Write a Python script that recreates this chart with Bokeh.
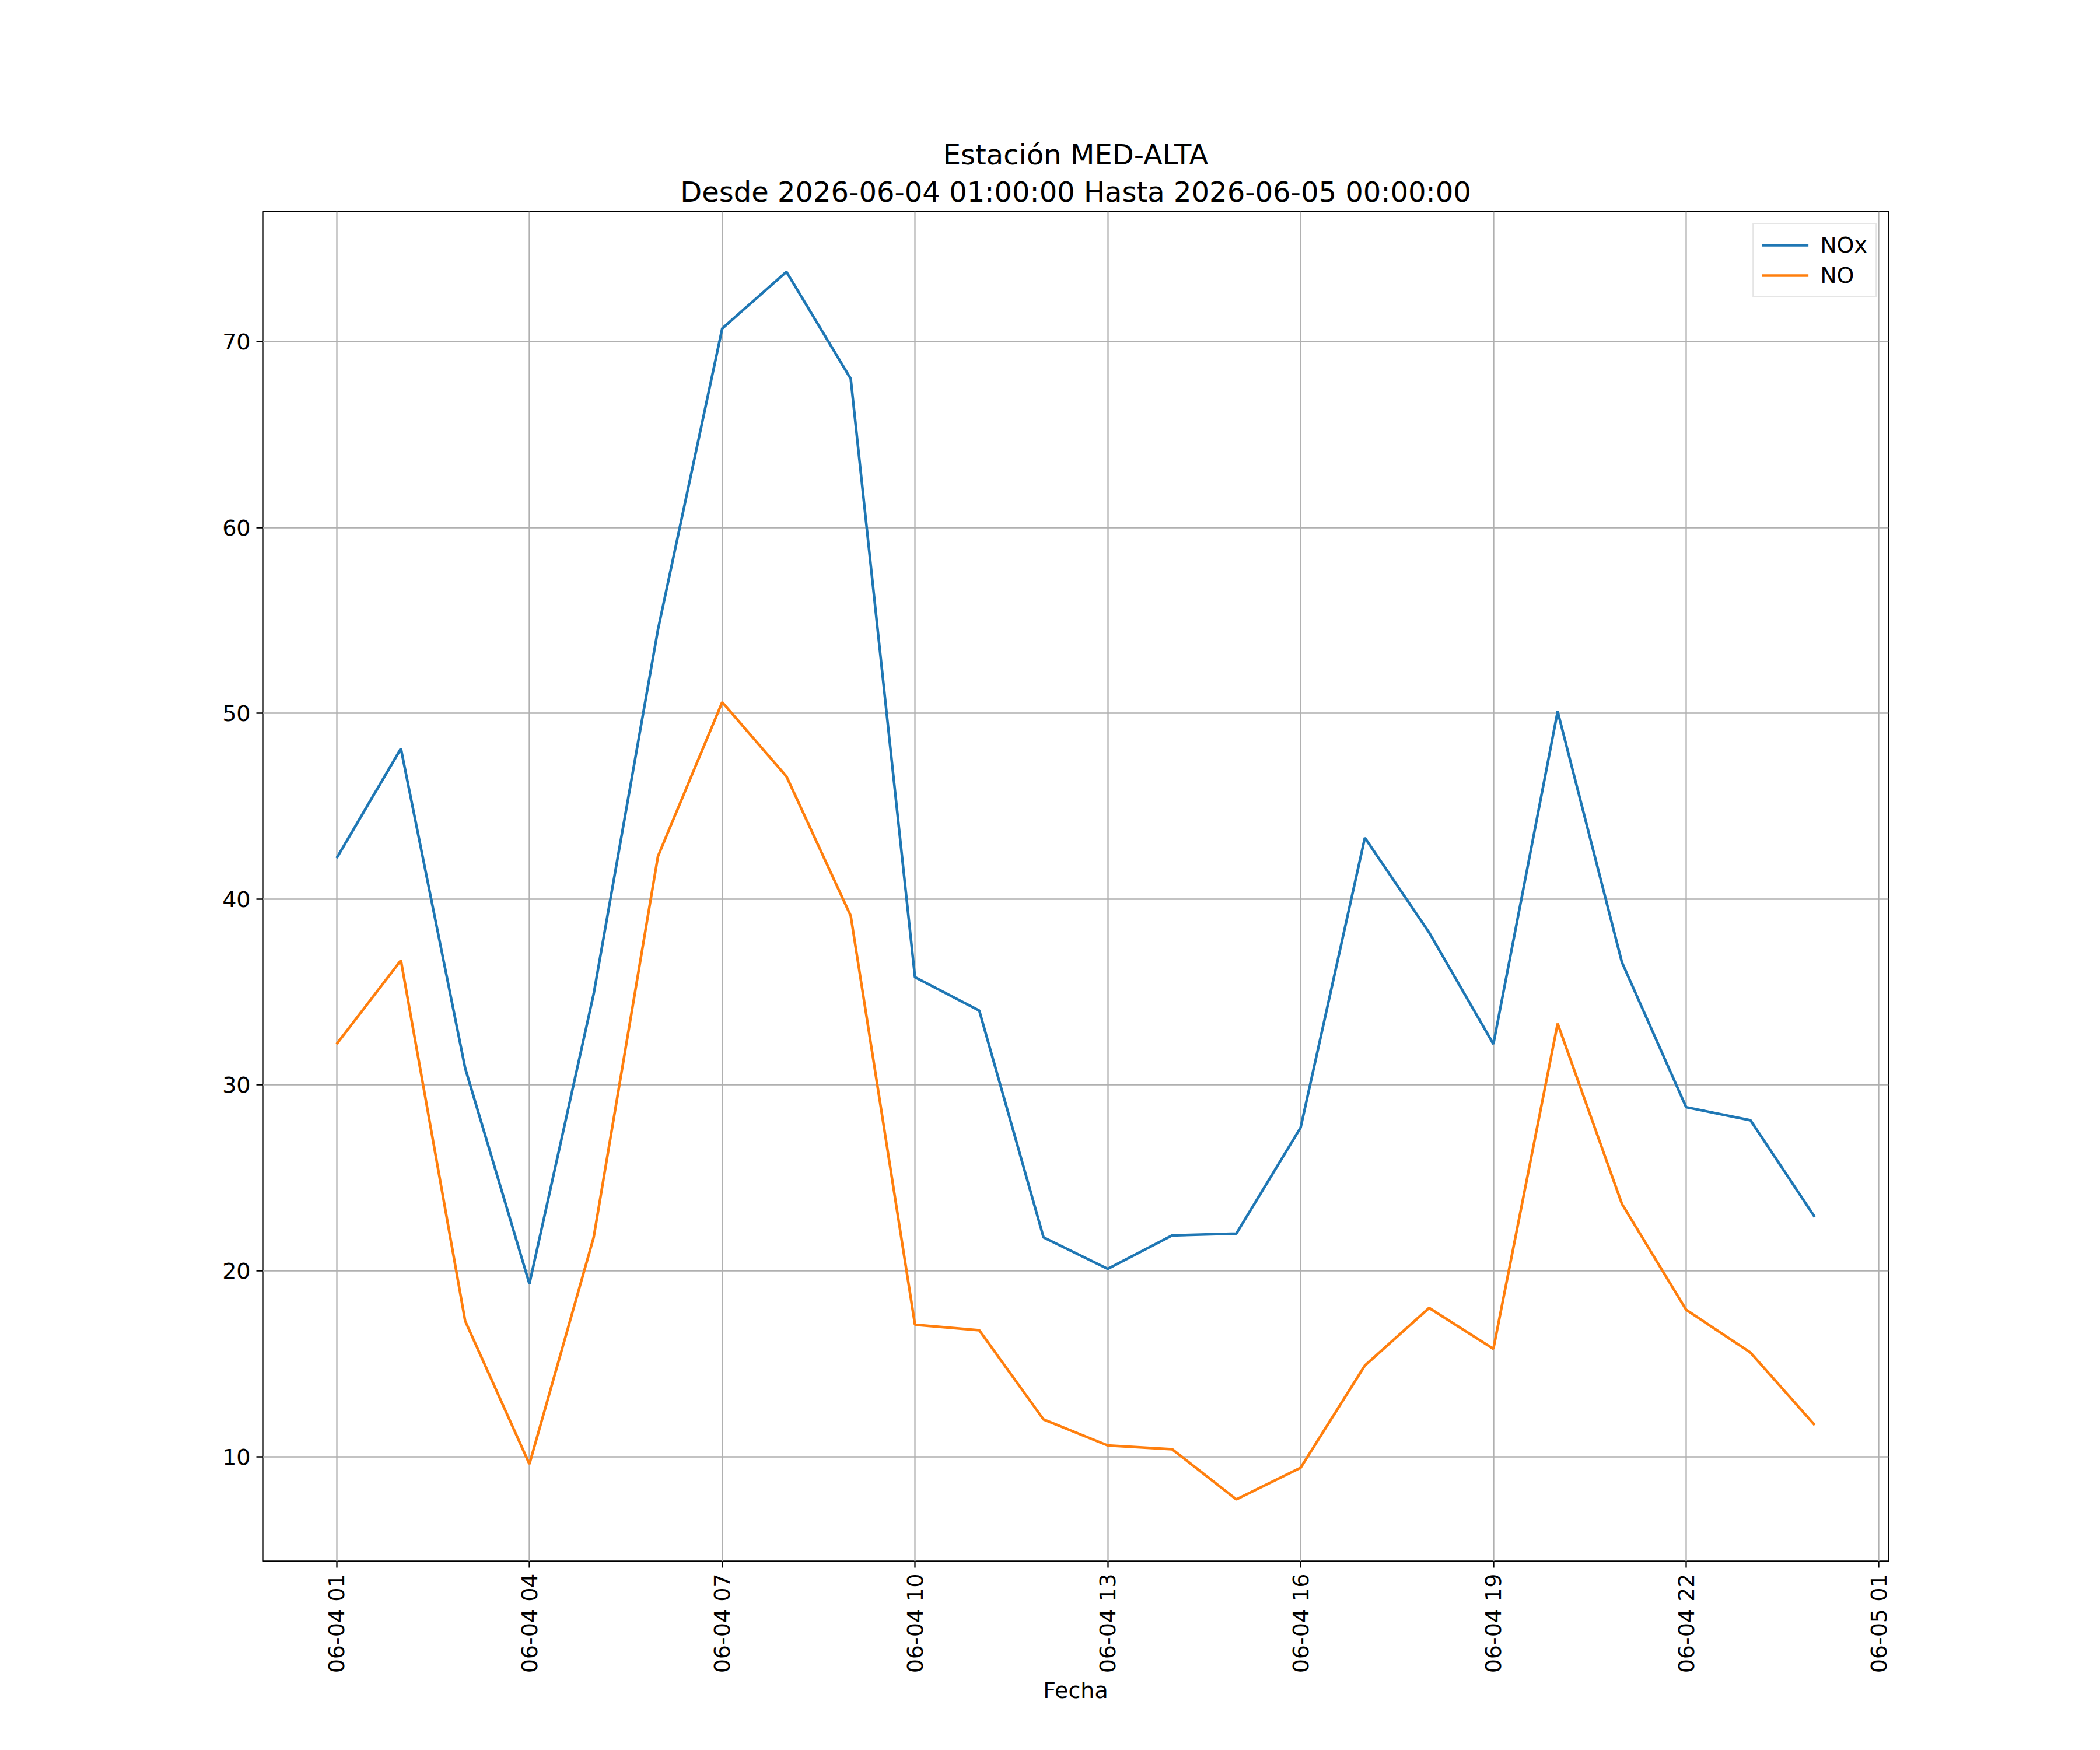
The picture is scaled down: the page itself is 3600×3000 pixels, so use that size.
import math
from bokeh.plotting import figure
from bokeh.models import FixedTicker, Legend, LegendItem, Range1d, Title
from bokeh.embed import file_html
from bokeh.resources import INLINE

hours = list(range(1, 25))
nox = [42.2, 48.1, 30.9, 19.3, 34.9, 54.5, 70.7, 73.75, 68.0, 35.8, 34.0, 21.8,
       20.1, 21.9, 22.0, 27.7, 43.3, 38.2, 32.2, 50.1, 36.6, 28.8, 28.1, 22.9]
no = [32.2, 36.7, 17.3, 9.6, 21.8, 42.3, 50.6, 46.6, 39.1, 17.1, 16.8, 12.0,
      10.6, 10.4, 7.7, 9.4, 14.9, 18.0, 15.8, 33.3, 23.6, 17.9, 15.6, 11.7]
tick_pos = [1, 4, 7, 10, 13, 16, 19, 22, 25]
tick_labels = ["06-04 01", "06-04 04", "06-04 07", "06-04 10", "06-04 13",
               "06-04 16", "06-04 19", "06-04 22", "06-05 01"]
y_ticks = [10, 20, 30, 40, 50, 60, 70]

F = "DejaVu Sans"
p = figure(width=3580, height=2980, output_backend="svg", toolbar_location=None,
           x_range=Range1d(-0.15, 25.15), y_range=Range1d(4.37, 77.0),
           min_border_left=450, min_border_right=343, min_border_top=362, min_border_bottom=304)
p.title = None
p.add_layout(Title(text="Desde 2026-06-04 01:00:00 Hasta 2026-06-05 00:00:00", align="center",
                   text_font=F, text_font_size="48px", text_font_style="normal",
                   text_color="black", standoff=12), "above")
p.add_layout(Title(text="Estación MED-ALTA", align="center",
                   text_font=F, text_font_size="48px", text_font_style="normal",
                   text_color="black", standoff=0), "above")

r1 = p.line(hours, nox, line_color="#1f77b4", line_width=4.5)
r2 = p.line(hours, no, line_color="#ff7f0e", line_width=4.5)

p.xaxis.ticker = FixedTicker(ticks=tick_pos)
p.xaxis.major_label_overrides = {t: l for t, l in zip(tick_pos, tick_labels)}
p.xaxis.major_label_orientation = math.pi / 2
p.xaxis.axis_label = "Fecha"
p.yaxis.ticker = FixedTicker(ticks=y_ticks)
for ax in (p.xaxis, p.yaxis):
    ax.major_label_text_font = F
    ax.major_label_text_font_size = "38px"
    ax.major_label_text_color = "black"
    ax.axis_label_text_font = F
    ax.axis_label_text_font_size = "38px"
    ax.axis_label_text_font_style = "normal"
    ax.axis_label_text_color = "black"
    ax.axis_line_color = None
    ax.major_tick_line_color = "black"
    ax.major_tick_line_width = 2.3
    ax.major_tick_out = 11
    ax.major_tick_in = 0
    ax.minor_tick_line_color = None
    ax.major_label_standoff = 10
p.grid.grid_line_color = "#b0b0b0"
p.grid.grid_line_width = 2.3
p.outline_line_color = "black"
p.outline_line_width = 2.3
p.outline_line_alpha = 1

leg = Legend(items=[LegendItem(label="NOx", renderers=[r1]), LegendItem(label="NO", renderers=[r2])],
             location="top_right", label_text_font=F, label_text_font_size="38px",
             label_text_color="black",
             border_line_color="#cccccc", border_line_width=2, background_fill_alpha=0.8,
             glyph_width=80, label_standoff=20, padding=14, spacing=8, margin=20)
p.add_layout(leg)

open("out.html", "w").write(file_html(p, INLINE))
